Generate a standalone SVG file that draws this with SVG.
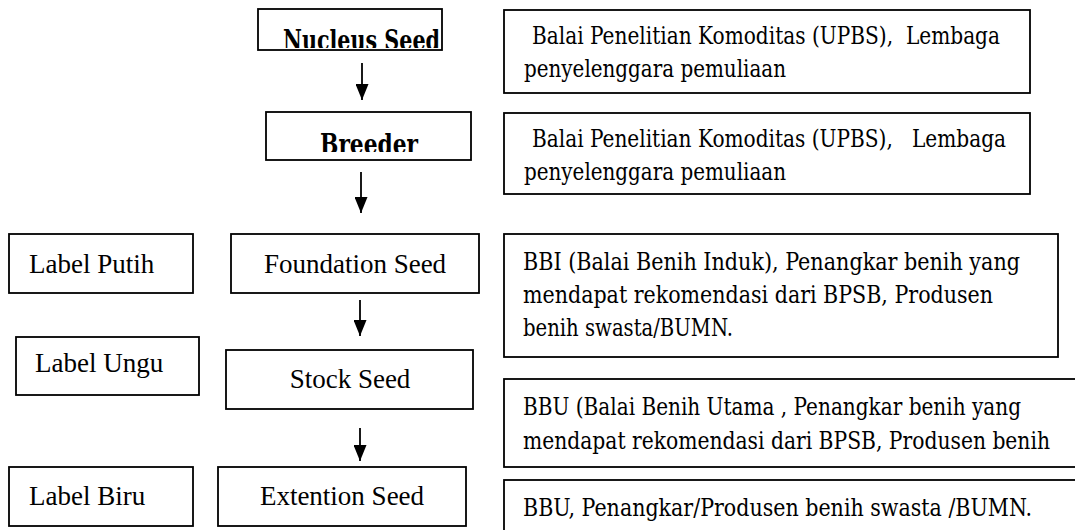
<svg xmlns="http://www.w3.org/2000/svg" width="1075" height="530" viewBox="0 0 1075 530">
<style>
.box{fill:#fff;stroke:#000;stroke-width:1.8}
.tnr{font-family:"Liberation Serif","Times New Roman",serif;font-size:27px;fill:#000}
.cam{font-family:"DejaVu Serif Condensed","Liberation Serif",serif;font-size:25px;fill:#000}
.bold{font-family:"DejaVu Serif Condensed","Liberation Serif",serif;font-size:28px;font-weight:bold;fill:#000}
.conn{stroke:#000;stroke-width:1.8;fill:none}
</style>
<defs>
<marker id="ah" viewBox="0 0 16 13" refX="16" refY="6.5" markerWidth="16" markerHeight="13" markerUnits="userSpaceOnUse" orient="auto">
<path d="M0,0 L16,6.5 L0,13 Z" fill="#000"/>
</marker>
<clipPath id="clipN"><rect x="258" y="9" width="184" height="39"/></clipPath>
<clipPath id="clipB"><rect x="266" y="112" width="205" height="40"/></clipPath>
</defs>
<rect width="1075" height="530" fill="#fff"/>

<g id="nucleus">
<rect class="box" x="258" y="9" width="184" height="41"/>
<text class="bold" x="283" y="50" textLength="157" lengthAdjust="spacingAndGlyphs" clip-path="url(#clipN)">Nucleus Seed</text>
</g>
<g id="breeder">
<rect class="box" x="266" y="112" width="205" height="48"/>
<text class="bold" x="320" y="154" textLength="98" lengthAdjust="spacingAndGlyphs" clip-path="url(#clipB)">Breeder</text>
</g>
<g id="foundation">
<rect class="box" x="231" y="234" width="248" height="59"/>
<text class="tnr" x="355" y="273" text-anchor="middle">Foundation Seed</text>
</g>
<g id="stock">
<rect class="box" x="226" y="350" width="247" height="59"/>
<text class="tnr" x="350" y="388" text-anchor="middle">Stock Seed</text>
</g>
<g id="extention">
<rect class="box" x="218" y="467" width="248" height="59"/>
<text class="tnr" x="342" y="505" text-anchor="middle">Extention Seed</text>
</g>
<g id="label-putih">
<rect class="box" x="9" y="234" width="184" height="59"/>
<text class="tnr" x="29" y="273">Label Putih</text>
</g>
<g id="label-ungu">
<rect class="box" x="16" y="337" width="183" height="58"/>
<text class="tnr" x="35" y="372">Label Ungu</text>
</g>
<g id="label-biru">
<rect class="box" x="9" y="467" width="184" height="59"/>
<text class="tnr" x="29" y="505">Label Biru</text>
</g>

<g id="desc-nucleus">
<rect class="box" x="504" y="10" width="526" height="83"/>
<text class="cam" x="532" y="44" textLength="468" lengthAdjust="spacingAndGlyphs" xml:space="preserve">Balai Penelitian Komoditas (UPBS),  Lembaga</text>
<text class="cam" x="524" y="77" textLength="262" lengthAdjust="spacingAndGlyphs">penyelenggara pemuliaan</text>
</g>
<g id="desc-breeder">
<rect class="box" x="504" y="113" width="526" height="81"/>
<text class="cam" x="532" y="147" textLength="474" lengthAdjust="spacingAndGlyphs" xml:space="preserve">Balai Penelitian Komoditas (UPBS),   Lembaga</text>
<text class="cam" x="524" y="180" textLength="262" lengthAdjust="spacingAndGlyphs">penyelenggara pemuliaan</text>
</g>
<g id="desc-foundation">
<rect class="box" x="504" y="234" width="554" height="123"/>
<text class="cam" x="523" y="270" textLength="497" lengthAdjust="spacingAndGlyphs">BBI (Balai Benih Induk), Penangkar benih yang</text>
<text class="cam" x="523" y="303" textLength="470" lengthAdjust="spacingAndGlyphs">mendapat rekomendasi dari BPSB, Produsen</text>
<text class="cam" x="523" y="336" textLength="210" lengthAdjust="spacingAndGlyphs">benih swasta/BUMN.</text>
</g>
<g id="desc-stock">
<rect class="box" x="504" y="379" width="573" height="88"/>
<text class="cam" x="523" y="415" textLength="498" lengthAdjust="spacingAndGlyphs">BBU (Balai Benih Utama , Penangkar benih yang</text>
<text class="cam" x="523" y="449" textLength="527" lengthAdjust="spacingAndGlyphs">mendapat rekomendasi dari BPSB, Produsen benih</text>
</g>
<g id="desc-extention">
<rect class="box" x="504" y="480" width="573" height="52"/>
<text class="cam" x="523" y="516" textLength="509" lengthAdjust="spacingAndGlyphs">BBU, Penangkar/Produsen benih swasta /BUMN.</text>
</g>

<g id="connectors">
<line class="conn" x1="362" y1="63" x2="362" y2="100" marker-end="url(#ah)"/>
<line class="conn" x1="361" y1="172" x2="361" y2="213" marker-end="url(#ah)"/>
<line class="conn" x1="360" y1="300" x2="360" y2="336" marker-end="url(#ah)"/>
<line class="conn" x1="360" y1="428" x2="360" y2="461" marker-end="url(#ah)"/>
</g>
</svg>
